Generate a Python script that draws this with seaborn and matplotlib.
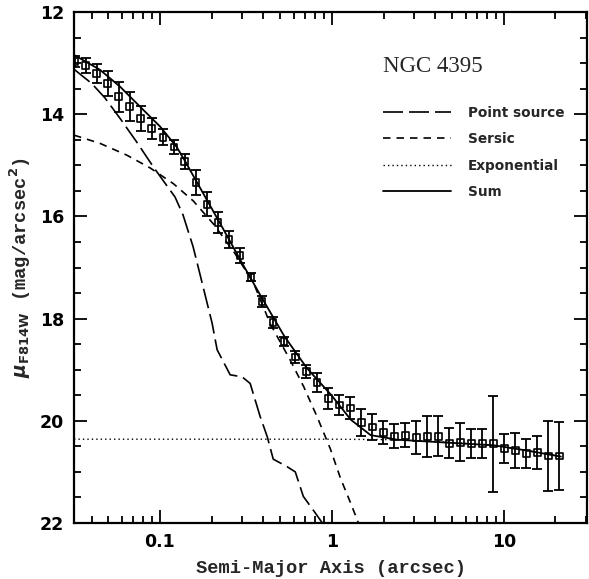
import numpy as np
import pandas as pd
import matplotlib
matplotlib.use('Agg')
import matplotlib.pyplot as plt
from matplotlib.ticker import LogLocator, NullFormatter, MultipleLocator
import seaborn as sns

# surface brightness profile
radius = [0.0319, 0.0370, 0.0429, 0.0497, 0.0576, 0.0668, 0.0774, 0.0897, 0.104,
          0.1205, 0.1396, 0.162, 0.1876, 0.2175, 0.252, 0.292, 0.3385, 0.3925,
          0.455, 0.527, 0.611, 0.708, 0.820, 0.951, 1.102, 1.277, 1.480, 1.716,
          1.989, 2.305, 2.672, 3.097, 3.589, 4.159, 4.82, 5.585, 6.47, 7.50,
          8.69, 10.07, 11.69, 13.55, 15.70, 18.20, 21.09]
mu = [12.97, 13.05, 13.20, 13.40, 13.66, 13.85, 14.08, 14.28, 14.45, 14.64,
      14.92, 15.34, 15.76, 16.12, 16.45, 16.77, 17.19, 17.67, 18.08, 18.45,
      18.75, 19.04, 19.25, 19.56, 19.69, 19.75, 20.03, 20.12, 20.23, 20.30,
      20.28, 20.32, 20.30, 20.30, 20.44, 20.42, 20.44, 20.44, 20.45, 20.54,
      20.58, 20.64, 20.62, 20.69, 20.69]
mu_err = [0.10, 0.15, 0.19, 0.245, 0.29, 0.29, 0.245, 0.20, 0.16, 0.13,
          0.15, 0.245, 0.23, 0.20, 0.16, 0.15, 0.08, 0.11, 0.11, 0.09,
          0.12, 0.13, 0.19, 0.20, 0.19, 0.21, 0.27, 0.25, 0.22, 0.23,
          0.24, 0.32, 0.40, 0.39, 0.29, 0.37, 0.28, 0.28, 0.94, 0.28,
          0.34, 0.29, 0.32, 0.68, 0.67]

# model components
psf_r = [0.0316, 0.0401, 0.0478, 0.0585, 0.0734, 0.0910, 0.1070, 0.1223,
         0.1361, 0.1557, 0.1665, 0.2010, 0.2150, 0.2560, 0.3006, 0.3347,
         0.3829, 0.4206, 0.4559, 0.5500, 0.6125, 0.6822, 0.7800, 0.8804, 0.95]
psf_mu = [13.12, 13.40, 13.68, 14.08, 14.55, 15.02, 15.35, 15.62,
          15.97, 16.59, 16.98, 18.09, 18.61, 19.10, 19.14, 19.27,
          19.92, 20.31, 20.75, 20.90, 21.0, 21.48, 21.75, 22.0, 22.2]
sersic_r = [0.0316, 0.0447, 0.064, 0.0875, 0.1197, 0.1565, 0.2048, 0.2675,
            0.350, 0.4375, 0.574, 0.685, 0.82, 0.98, 1.121, 1.282, 1.39, 1.50]
sersic_mu = [14.41, 14.57, 14.80, 15.05, 15.36, 15.70, 16.15, 16.68, 17.30,
             18.10, 18.82, 19.33, 19.92, 20.55, 21.12, 21.60, 21.90, 22.2]
expo_r = [0.0316, 0.1, 1.0, 2.4, 4.3, 8.78, 13.5, 21.5]
expo_mu = [20.36, 20.36, 20.36, 20.37, 20.41, 20.48, 20.58, 20.70]
sum_r = [0.0316, 0.0447, 0.0585, 0.0764, 0.1, 0.125, 0.14, 0.171, 0.224,
         0.292, 0.383, 0.53, 0.716, 1.0, 1.29, 1.68, 2.40, 4.3, 8.78,
         13.5, 21.5]
sum_mu = [12.84, 13.13, 13.46, 13.85, 14.24, 14.64, 14.92, 15.44, 16.14,
          16.84, 17.54, 18.35, 18.97, 19.51, 19.98, 20.28, 20.37, 20.42,
          20.48, 20.58, 20.70]

sns.set_style('ticks')
plt.rcParams['font.family'] = ['DejaVu Sans']
plt.rcParams['mathtext.fontset'] = 'dejavusans'

fig = plt.figure(figsize=(5.89, 5.79), dpi=100)
ax = fig.add_axes([74/589, 56/579, 513/589, 511/579])

sns.lineplot(x=psf_r, y=psf_mu, ax=ax, color='k', lw=1.2, sort=False,
             estimator=None, linestyle=(0, (12, 3.6)), label='Point source')
sns.lineplot(x=sersic_r, y=sersic_mu, ax=ax, color='k', lw=1.2, sort=False,
             estimator=None, linestyle=(0, (4.5, 3.6)), label='Sersic')
sns.lineplot(x=expo_r, y=expo_mu, ax=ax, color='k', lw=1.0, sort=False,
             estimator=None, linestyle=(0, (1, 2.2)), label='Exponential')
sns.lineplot(x=sum_r, y=sum_mu, ax=ax, color='k', lw=1.3, sort=False,
             estimator=None, label='Sum')

ax.errorbar(radius, mu, yerr=mu_err, fmt='none', ecolor='k', elinewidth=1.3,
            capsize=3.5, capthick=1.3)
sns.scatterplot(x=radius, y=mu, ax=ax, marker='s', s=24, facecolor='none',
                edgecolor='k', linewidth=1.2, zorder=5)

ax.set_xscale('log')
ax.set_xlim(0.0316, 30.5)
ax.set_ylim(22, 12)
ax.set_xticks([0.1, 1, 10])
ax.set_xticklabels(['0.1', '1', '10'])
ax.xaxis.set_minor_locator(LogLocator(base=10, subs=range(2, 10)))
ax.xaxis.set_minor_formatter(NullFormatter())
ax.set_yticks([12, 14, 16, 18, 20, 22])
ax.yaxis.set_minor_locator(MultipleLocator(0.5))

ax.tick_params(which='both', direction='in', top=True, right=True,
               width=1.3, colors='k', labelsize=12.5)
ax.tick_params(which='major', length=9.4, pad=7)
ax.tick_params(which='minor', length=5.2)
for lab in ax.get_xticklabels() + ax.get_yticklabels():
    lab.set_fontweight('bold')
for s in ax.spines.values():
    s.set_linewidth(1.6)
    s.set_color('k')

ax.set_xlabel('Semi-Major Axis (arcsec)', family='Liberation Mono',
              fontweight='bold', fontsize=13.5)
ax.set_ylabel(r'$\boldsymbol{\mu}_{\mathbf{F814W}}$ (mag/arcsec$^\mathbf{2}$)',
              family='Liberation Mono', fontweight='bold', fontsize=13.5)
ax.xaxis.set_label_coords(0.5, -0.072)
ax.yaxis.set_label_coords(-0.08, 0.5)

ax.text(383/589, 1 - 67/579, 'NGC 4395', transform=fig.transFigure,
        family='Liberation Serif', fontsize=16.5, va='center', ha='left')

handles, labels = ax.get_legend_handles_labels()
ax.legend(handles[:4], labels[:4], loc='upper left',
          bbox_to_anchor=(383/589, 1 - 106/579), bbox_transform=fig.transFigure,
          frameon=False, borderpad=0, borderaxespad=0, handlelength=5.0,
          handletextpad=1.25, labelspacing=0.9,
          prop={'weight': 'bold', 'size': 9.8})

fig.savefig('out.png', dpi=100)
